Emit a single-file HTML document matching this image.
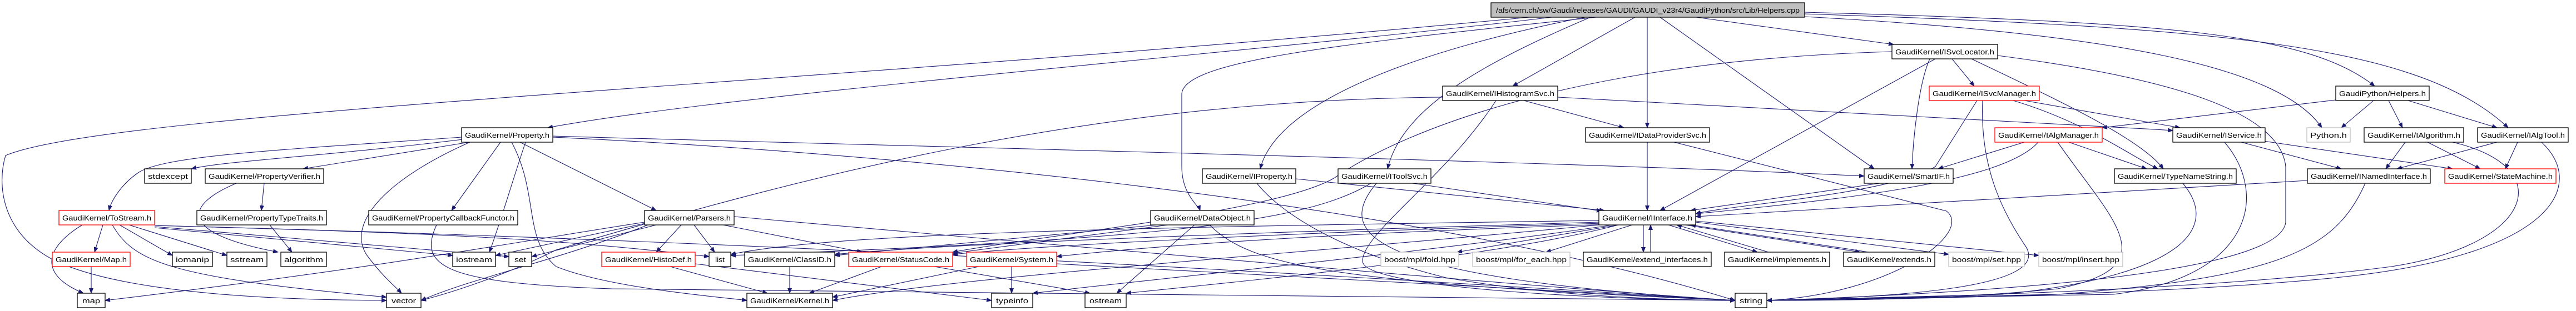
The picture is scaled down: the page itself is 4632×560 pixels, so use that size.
<!DOCTYPE html>
<html><head><meta charset="utf-8"><style>
html,body{margin:0;padding:0;background:#fff;}
svg{display:block;}
text{font-family:"Liberation Sans",sans-serif;font-size:13px;fill:#000;}
</style></head><body>
<svg width="4632" height="560" viewBox="0 0 4632 560" xmlns="http://www.w3.org/2000/svg">
<defs>
<marker id="a" markerWidth="10" markerHeight="8" refX="9" refY="4" orient="auto" markerUnits="userSpaceOnUse">
<path d="M0,0 L10,4 L0,8 z" fill="#191970"/>
</marker>
</defs>
<g fill="none" stroke="#191970" stroke-width="1.1" marker-end="url(#a)">
<!-- top -->
<path d="M2790,31 C2300,90 1300,170 985,230"/>
<path d="M2750,31 C1500,150 200,200 10,280 C-5,330 0,420 100,470 C250,540 600,540 695,541"/>
<path d="M2850,31 C2600,80 2300,170 2266,304"/>
<path d="M2870,31 C2400,80 2125,110 2125,170 L2125,300 C2125,350 2155,370 2158,379"/>
<path d="M2940,31 L2720,155"/>
<path d="M2860,31 C2650,120 2520,200 2495,304"/>
<path d="M2962,31 L2962,230"/>
<path d="M2985,31 L3370,304"/>
<path d="M3050,31 L3405,80"/>
<path d="M3245,22 C3900,40 4150,60 4270,155"/>
<path d="M3245,25 C4000,50 4350,80 4510,230"/>
<path d="M3245,30 C3800,60 4100,120 4175,230"/>
<!-- ISvcLocator -->
<path d="M3510,106 L3550,155"/>
<path d="M3470,106 C3450,150 3440,250 3438,304"/>
<path d="M3480,106 L2985,379"/>
<path d="M3545,106 C3700,180 3850,250 3890,304"/>
<path d="M3592,100 C3900,140 4100,200 4110,300 L4110,400 C4100,500 3500,530 3177,541"/>
<path d="M3402,93 C2800,110 2500,250 2400,320 C2300,380 1900,420 1713,454"/>
<!-- IHistogramSvc -->
<path d="M2740,181 L2920,230"/>
<path d="M2690,181 C2600,320 2450,420 2450,470 C2450,520 2900,540 3120,541"/>
<path d="M2594,175 C2000,180 1500,300 1000,450 C900,500 800,530 757,541"/>
<path d="M2801,175 C3300,200 3600,215 3907,235"/>
<!-- IDataProviderSvc -->
<path d="M2962,256 L2962,379"/>
<path d="M3010,256 L3500,380 C3550,420 3400,530 3177,541"/>
<!-- ISvcManager -->
<path d="M3640,181 L3920,230"/>
<path d="M3620,181 C3750,220 3830,280 3880,304"/>
<path d="M3555,181 L3480,300 C3400,350 3100,370 3049,385"/>
<path d="M3565,181 C3560,300 3600,380 3640,440 C3700,520 3400,535 3177,541"/>
<!-- GaudiPython Helpers -->
<path d="M4200,180 L3780,230"/>
<path d="M4268,181 L4210,230"/>
<path d="M4295,181 L4320,230"/>
<path d="M4330,181 L4490,230"/>
<!-- Property -->
<path d="M840,250 C600,280 400,290 344,304"/>
<path d="M850,255 L545,304"/>
<path d="M830,247 C500,270 300,280 250,310 C220,330 200,360 196,379"/>
<path d="M900,256 L812,379"/>
<path d="M935,256 L1180,379"/>
<path d="M845,256 C700,320 620,400 660,460 C690,500 710,515 722,528"/>
<path d="M920,256 C970,350 940,430 1000,480 C1100,520 1300,535 1343,541"/>
<path d="M994,247 C1500,270 2500,350 3120,541"/>
<path d="M994,245 C1500,260 2800,290 3352,317"/>
<path d="M945,256 C920,330 900,400 880,454"/>
<!-- PropertyVerifier etc -->
<path d="M475,330 L470,379"/>
<path d="M425,330 C330,370 320,420 500,454"/>
<path d="M485,405 L525,454"/>
<path d="M785,405 C750,480 800,510 1100,520 C2000,535 2900,540 3120,541"/>
<!-- ToStream -->
<path d="M185,405 L170,454"/>
<path d="M148,405 C90,440 60,490 150,528"/>
<path d="M215,405 L310,460"/>
<path d="M232,405 L408,460"/>
<path d="M202,405 C240,470 300,500 695,535"/>
<path d="M278,410 L814,460"/>
<path d="M278,408 L915,462"/>
<path d="M278,406 C800,420 1000,430 1275,462"/>
<path d="M278,406 C1200,430 2000,470 3120,541"/>
<path d="M164,480 L164,528"/>
<!-- Parsers -->
<path d="M1165,405 C1000,470 850,500 757,541"/>
<path d="M1225,405 L1180,454"/>
<path d="M1248,405 L1285,454"/>
<path d="M1300,405 L1550,454"/>
<path d="M1180,405 L956,462"/>
<path d="M1170,400 L891,460"/>
<path d="M1159,400 C900,440 700,480 189,541"/>
<path d="M1320,390 C2000,450 2800,520 3120,541"/>
<!-- row6 -->
<path d="M1205,480 L1380,528"/>
<path d="M1250,475 L1783,541"/>
<path d="M1420,480 L1420,528"/>
<path d="M1585,480 L1455,528"/>
<path d="M1680,480 L1960,528"/>
<path d="M1760,480 L1497,535"/>
<path d="M1819,480 L1819,528"/>
<path d="M1900,475 L3120,541"/>
<!-- IProperty -->
<path d="M2330,322 L2885,379"/>
<path d="M2260,330 C2300,380 2400,450 2600,500 C2800,535 3000,540 3120,541"/>
<!-- DataObject -->
<path d="M2080,405 L1501,460"/>
<path d="M2100,405 L1713,456"/>
<path d="M2148,405 L2008,528"/>
<path d="M2175,405 C2250,480 2400,510 3120,541"/>
<!-- IToolSvc -->
<path d="M2540,330 L2880,380"/>
<path d="M2465,330 C2350,400 2100,430 1314,460"/>
<path d="M2475,330 C2400,420 2450,500 3120,541"/>
<!-- SmartIF -->
<path d="M3380,330 L3040,379"/>
<!-- IAlgManager -->
<path d="M3640,256 L3485,304"/>
<path d="M3720,256 L3860,304"/>
<path d="M3665,256 C3600,330 3300,360 3049,385"/>
<path d="M3700,256 C3800,400 3900,480 3700,520 C3500,540 3300,541 3177,541"/>
<!-- IService / IAlgorithm / IAlgTool -->
<path d="M4030,256 L4210,304"/>
<path d="M4070,254 L4410,304"/>
<path d="M4000,256 C4080,350 4050,500 3800,530 L3177,541"/>
<path d="M4325,256 L4290,304"/>
<path d="M4365,256 L4460,304"/>
<path d="M4410,256 C4600,300 4560,440 4300,480 C4000,520 3500,535 3177,541"/>
<path d="M4490,256 L4310,304"/>
<path d="M4527,256 L4505,304"/>
<path d="M4570,256 C4650,330 4600,460 4200,500 C3900,530 3400,540 3177,541"/>
<path d="M3925,330 C4000,420 3900,500 3600,530 L3177,541"/>
<path d="M4149,325 L3049,390"/>
<path d="M4253,330 C4200,450 4100,500 3700,530 L3177,541"/>
<!-- IInterface -->
<path d="M2875,397 C2000,410 1500,420 1314,458"/>
<path d="M2875,400 C2200,420 1700,440 1501,458"/>
<path d="M2880,402 C2300,420 1900,440 1713,458"/>
<path d="M2890,404 C2400,420 2100,440 1900,462"/>
<path d="M2900,405 C2600,450 2100,500 1857,528"/>
<path d="M2910,405 C2700,460 2300,500 2025,528"/>
<path d="M2910,405 L2620,454"/>
<path d="M2935,405 L2780,454"/>
<path d="M2955,405 L2955,454"/>
<path d="M2968,454 L2968,405"/>
<path d="M3000,405 L3160,454"/>
<path d="M3180,454 L3015,405"/>
<path d="M3030,405 L3345,454"/>
<path d="M3360,454 L3040,405"/>
<path d="M3049,400 L3504,458"/>
<path d="M3049,398 L3666,460"/>
<path d="M2875,405 C2300,460 1700,500 1497,541"/>
</g>
<g stroke-width="1.3">
<rect x="2681" y="5" width="564" height="26" fill="#bfbfbf" stroke="#000"/>
<text x="2690" y="23" textLength="546" lengthAdjust="spacingAndGlyphs">/afs/cern.ch/sw/Gaudi/releases/GAUDI/GAUDI_v23r4/GaudiPython/src/Lib/Helpers.cpp</text>

<rect x="3402" y="80" width="190" height="26" fill="#fff" stroke="#000"/>
<text x="3408" y="98" textLength="178" lengthAdjust="spacingAndGlyphs">GaudiKernel/ISvcLocator.h</text>

<rect x="2594" y="155" width="207" height="26" fill="#fff" stroke="#000"/>
<text x="2600" y="173" textLength="195" lengthAdjust="spacingAndGlyphs">GaudiKernel/IHistogramSvc.h</text>
<rect x="3469" y="155" width="198" height="26" fill="#fff" stroke="#f00"/>
<text x="3475" y="173" textLength="186" lengthAdjust="spacingAndGlyphs">GaudiKernel/ISvcManager.h</text>
<rect x="4200" y="155" width="168" height="26" fill="#fff" stroke="#000"/>
<text x="4206" y="173" textLength="156" lengthAdjust="spacingAndGlyphs">GaudiPython/Helpers.h</text>

<rect x="830" y="230" width="164" height="26" fill="#fff" stroke="#000"/>
<text x="836" y="248" textLength="152" lengthAdjust="spacingAndGlyphs">GaudiKernel/Property.h</text>
<rect x="2851" y="230" width="223" height="26" fill="#fff" stroke="#000"/>
<text x="2857" y="248" textLength="211" lengthAdjust="spacingAndGlyphs">GaudiKernel/IDataProviderSvc.h</text>
<rect x="3587" y="230" width="193" height="26" fill="#fff" stroke="#f00"/>
<text x="3593" y="248" textLength="181" lengthAdjust="spacingAndGlyphs">GaudiKernel/IAlgManager.h</text>
<rect x="3907" y="230" width="166" height="26" fill="#fff" stroke="#000"/>
<text x="3913" y="248" textLength="154" lengthAdjust="spacingAndGlyphs">GaudiKernel/IService.h</text>
<rect x="4148" y="230" width="78" height="26" fill="#fff" stroke="#bfbfbf"/>
<text x="4154" y="248" textLength="66" lengthAdjust="spacingAndGlyphs">Python.h</text>
<rect x="4251" y="230" width="179" height="26" fill="#fff" stroke="#000"/>
<text x="4257" y="248" textLength="167" lengthAdjust="spacingAndGlyphs">GaudiKernel/IAlgorithm.h</text>
<rect x="4455" y="230" width="163" height="26" fill="#fff" stroke="#000"/>
<text x="4461" y="248" textLength="151" lengthAdjust="spacingAndGlyphs">GaudiKernel/IAlgTool.h</text>

<rect x="260" y="304" width="84" height="26" fill="#fff" stroke="#000"/>
<text x="266" y="322" textLength="72" lengthAdjust="spacingAndGlyphs">stdexcept</text>
<rect x="369" y="304" width="213" height="26" fill="#fff" stroke="#000"/>
<text x="375" y="322" textLength="201" lengthAdjust="spacingAndGlyphs">GaudiKernel/PropertyVerifier.h</text>
<rect x="2162" y="304" width="168" height="26" fill="#fff" stroke="#000"/>
<text x="2168" y="322" textLength="156" lengthAdjust="spacingAndGlyphs">GaudiKernel/IProperty.h</text>
<rect x="2406" y="304" width="167" height="26" fill="#fff" stroke="#000"/>
<text x="2412" y="322" textLength="155" lengthAdjust="spacingAndGlyphs">GaudiKernel/IToolSvc.h</text>
<rect x="3352" y="304" width="160" height="26" fill="#fff" stroke="#000"/>
<text x="3358" y="322" textLength="148" lengthAdjust="spacingAndGlyphs">GaudiKernel/SmartIF.h</text>
<rect x="3802" y="304" width="219" height="26" fill="#fff" stroke="#000"/>
<text x="3808" y="322" textLength="207" lengthAdjust="spacingAndGlyphs">GaudiKernel/TypeNameString.h</text>
<rect x="4149" y="304" width="221" height="26" fill="#fff" stroke="#000"/>
<text x="4155" y="322" textLength="209" lengthAdjust="spacingAndGlyphs">GaudiKernel/INamedInterface.h</text>
<rect x="4396" y="304" width="200" height="26" fill="#fff" stroke="#f00"/>
<text x="4402" y="322" textLength="188" lengthAdjust="spacingAndGlyphs">GaudiKernel/StateMachine.h</text>

<rect x="106" y="379" width="172" height="26" fill="#fff" stroke="#f00"/>
<text x="112" y="397" textLength="160" lengthAdjust="spacingAndGlyphs">GaudiKernel/ToStream.h</text>
<rect x="354" y="379" width="233" height="26" fill="#fff" stroke="#000"/>
<text x="360" y="397" textLength="221" lengthAdjust="spacingAndGlyphs">GaudiKernel/PropertyTypeTraits.h</text>
<rect x="663" y="379" width="268" height="26" fill="#fff" stroke="#000"/>
<text x="669" y="397" textLength="256" lengthAdjust="spacingAndGlyphs">GaudiKernel/PropertyCallbackFunctor.h</text>
<rect x="1159" y="379" width="161" height="26" fill="#fff" stroke="#000"/>
<text x="1165" y="397" textLength="149" lengthAdjust="spacingAndGlyphs">GaudiKernel/Parsers.h</text>
<rect x="2069" y="379" width="186" height="26" fill="#fff" stroke="#000"/>
<text x="2075" y="397" textLength="174" lengthAdjust="spacingAndGlyphs">GaudiKernel/DataObject.h</text>
<rect x="2875" y="379" width="174" height="26" fill="#fff" stroke="#000"/>
<text x="2881" y="397" textLength="162" lengthAdjust="spacingAndGlyphs">GaudiKernel/IInterface.h</text>

<rect x="94" y="454" width="140" height="26" fill="#fff" stroke="#f00"/>
<text x="100" y="472" textLength="128" lengthAdjust="spacingAndGlyphs">GaudiKernel/Map.h</text>
<rect x="310" y="454" width="72" height="26" fill="#fff" stroke="#000"/>
<text x="316" y="472" textLength="60" lengthAdjust="spacingAndGlyphs">iomanip</text>
<rect x="408" y="454" width="72" height="26" fill="#fff" stroke="#000"/>
<text x="414" y="472" textLength="60" lengthAdjust="spacingAndGlyphs">sstream</text>
<rect x="505" y="454" width="82" height="26" fill="#fff" stroke="#000"/>
<text x="511" y="472" textLength="70" lengthAdjust="spacingAndGlyphs">algorithm</text>
<rect x="814" y="454" width="77" height="26" fill="#fff" stroke="#000"/>
<text x="820" y="472" textLength="65" lengthAdjust="spacingAndGlyphs">iostream</text>
<rect x="915" y="454" width="41" height="26" fill="#fff" stroke="#000"/>
<text x="925" y="472" textLength="21" lengthAdjust="spacingAndGlyphs">set</text>
<rect x="1082" y="454" width="168" height="26" fill="#fff" stroke="#f00"/>
<text x="1088" y="472" textLength="156" lengthAdjust="spacingAndGlyphs">GaudiKernel/HistoDef.h</text>
<rect x="1275" y="454" width="39" height="26" fill="#fff" stroke="#000"/>
<text x="1286" y="472" textLength="17" lengthAdjust="spacingAndGlyphs">list</text>
<rect x="1339" y="454" width="162" height="26" fill="#fff" stroke="#000"/>
<text x="1345" y="472" textLength="150" lengthAdjust="spacingAndGlyphs">GaudiKernel/ClassID.h</text>
<rect x="1526" y="454" width="187" height="26" fill="#fff" stroke="#f00"/>
<text x="1532" y="472" textLength="175" lengthAdjust="spacingAndGlyphs">GaudiKernel/StatusCode.h</text>
<rect x="1738" y="454" width="162" height="26" fill="#fff" stroke="#f00"/>
<text x="1744" y="472" textLength="150" lengthAdjust="spacingAndGlyphs">GaudiKernel/System.h</text>
<rect x="2483" y="454" width="140" height="26" fill="#fff" stroke="#bfbfbf"/>
<text x="2489" y="472" textLength="128" lengthAdjust="spacingAndGlyphs">boost/mpl/fold.hpp</text>
<rect x="2648" y="454" width="175" height="26" fill="#fff" stroke="#bfbfbf"/>
<text x="2654" y="472" textLength="163" lengthAdjust="spacingAndGlyphs">boost/mpl/for_each.hpp</text>
<rect x="2847" y="454" width="230" height="26" fill="#fff" stroke="#000"/>
<text x="2853" y="472" textLength="218" lengthAdjust="spacingAndGlyphs">GaudiKernel/extend_interfaces.h</text>
<rect x="3101" y="454" width="189" height="26" fill="#fff" stroke="#000"/>
<text x="3107" y="472" textLength="177" lengthAdjust="spacingAndGlyphs">GaudiKernel/implements.h</text>
<rect x="3315" y="454" width="164" height="26" fill="#fff" stroke="#000"/>
<text x="3321" y="472" textLength="152" lengthAdjust="spacingAndGlyphs">GaudiKernel/extends.h</text>
<rect x="3504" y="454" width="136" height="26" fill="#fff" stroke="#bfbfbf"/>
<text x="3510" y="472" textLength="124" lengthAdjust="spacingAndGlyphs">boost/mpl/set.hpp</text>
<rect x="3666" y="454" width="151" height="26" fill="#fff" stroke="#bfbfbf"/>
<text x="3672" y="472" textLength="139" lengthAdjust="spacingAndGlyphs">boost/mpl/insert.hpp</text>

<rect x="139" y="528" width="50" height="26" fill="#fff" stroke="#000"/>
<text x="148" y="546" textLength="32" lengthAdjust="spacingAndGlyphs">map</text>
<rect x="695" y="528" width="62" height="26" fill="#fff" stroke="#000"/>
<text x="704" y="546" textLength="44" lengthAdjust="spacingAndGlyphs">vector</text>
<rect x="1343" y="528" width="154" height="26" fill="#fff" stroke="#000"/>
<text x="1349" y="546" textLength="142" lengthAdjust="spacingAndGlyphs">GaudiKernel/Kernel.h</text>
<rect x="1783" y="528" width="74" height="26" fill="#fff" stroke="#000"/>
<text x="1791" y="546" textLength="58" lengthAdjust="spacingAndGlyphs">typeinfo</text>
<rect x="1951" y="528" width="74" height="26" fill="#fff" stroke="#000"/>
<text x="1959" y="546" textLength="58" lengthAdjust="spacingAndGlyphs">ostream</text>
<rect x="3120" y="528" width="57" height="26" fill="#fff" stroke="#000"/>
<text x="3128" y="546" textLength="41" lengthAdjust="spacingAndGlyphs">string</text>
</g>
</svg>
</body></html>
